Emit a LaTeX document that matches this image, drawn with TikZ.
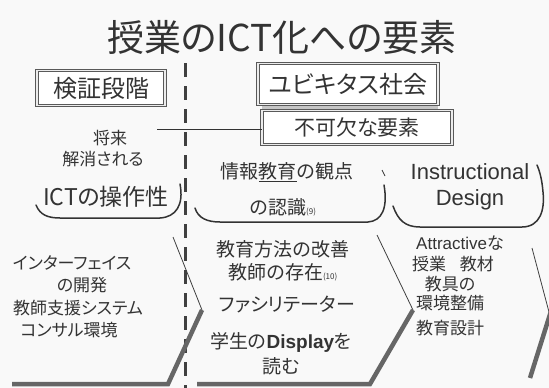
\documentclass[tikz,border=0pt]{standalone}
\usepackage{fontspec}
\setmainfont{Noto Sans CJK JP}[RawFeature=+palt]
\newfontfamily\latinfont{Liberation Sans}
\newcommand{\fs}[1]{\fontsize{#1}{#1}\selectfont}
\begin{document}
\begin{tikzpicture}[x=1pt,y=-1pt,
  every node/.style={inner sep=0pt, text=black!80},
  ink/.style={black!80},
  framebox/.style={draw=black!65, line width=0.9pt, double=gray!15, double distance=1.3pt, fill=white},
  bracket/.style={draw=black!80, line width=1.5pt, line cap=round},
  thinedge/.style={draw=black!75, line width=0.8pt},
  shadowedge/.style={draw=black!60, line width=4.5pt, line join=miter},
  label/.style={font=\fs{17}, align=center},
  midlabel/.style={font=\fs{19}, align=center}]
\fill[gray!5] (0,0) rectangle (549,388);
\useasboundingbox (0,0) rectangle (549,388);

% title
\node (title) at (282,37) {\fs{37}授業のICT化への要素};

% top boxes
\node[framebox, minimum width=128pt, minimum height=35pt, font=\fs{24}] (kensho) at (101,88) {検証段階};
\fill[gray!45] (262,104) rectangle (438,109);
\node[framebox, minimum width=180pt, minimum height=41pt, font=\fs{24}] (ubi) at (348,84) {ユビキタス社会};
\node[framebox, minimum width=190pt, minimum height=34pt, font=\fs{21}] (req) at (357,127.5) {不可欠な要素};

% dashed divider
\draw[black!75, line width=3pt, dash pattern=on 14pt off 9pt] (185,63) -- (185,388);

% connector
\coordinate (ls) at (157,129);
\draw[ink, line width=0.8pt] (ls) -- (ls -| req.west);

% left column texts
\node[font=\fs{17}] (shorai) at (110,138) {将来};
\node[font=\fs{17}] (kaisho) at (103,159) {解消される};
\node[font=\fs{23}] (sosa) at (106,197) {ICTの操作性};

% brackets
\draw[bracket] (36,205) .. controls (40,215) and (48,218) .. (60,218) -- (160,218)
  .. controls (176,217) and (184,205) .. (180,184);
\draw[bracket] (195,208) .. controls (198,218) and (207,222) .. (220,222) -- (368,222)
  .. controls (382,221) and (388,208) .. (384,185);
\draw[ink, line width=0.8pt] (382,170) -- (385,176);
\draw[bracket] (393,206) .. controls (398,220) and (405,227) .. (420,227) -- (522,227)
  .. controls (540,227) and (545,210) .. (543,192) .. controls (542,180) and (540,172) .. (537,165);

% middle row texts
\node[midlabel] (joho) at (287,172) {情報\underline{教育}の観点};
\node[midlabel] (ninshiki) at (283,207) {の認識{\fs{8}(9)}};
\node[font=\fs{22}\latinfont] (instr) at (470,172) {Instructional};
\node[font=\fs{22}\latinfont] (design) at (470,200) {Design};

% chevrons
\draw[thinedge] (173,237) -- (202,310);
\draw[shadowedge] (12,384) -- (168,384) -- (202,310);
\draw[thinedge] (377,235) -- (413,310);
\draw[shadowedge] (197,384) -- (370,384) -- (413,310);
\draw[thinedge] (532,248) -- (549,312);
\draw[shadowedge] (552,308) -- (530,378);

% chevron 1 texts
\node[label] (c1a) at (72,263) {インターフェイス};
\node[label] (c1b) at (82,285) {の開発};
\node[label] (c1c) at (78,308) {教師支援システム};
\node[label] (c1d) at (69,330) {コンサル環境};

% chevron 2 texts
\node[midlabel] (c2a) at (283,249) {教育方法の改善};
\node[midlabel] (c2b) at (283,272) {教師の存在{\fs{8}(10)}};
\node[midlabel] (c2c) at (287,305) {ファシリテーター};
\node[midlabel] (c2d) at (281,342) {学生の{\latinfont\bfseries Display}を};
\node[midlabel] (c2e) at (281,366) {読む};

% chevron 3 texts
\node[label] (c3a) at (460,243) {{\latinfont Attractive}な};
\node[label] (c3b) at (453,264) {授業\hspace{0.8em}教材};
\node[label] (c3c) at (450,284) {教具の};
\node[label] (c3d) at (450,303) {環境整備};
\node[label] (c3e) at (450,328) {教育設計};
\end{tikzpicture}
\end{document}
